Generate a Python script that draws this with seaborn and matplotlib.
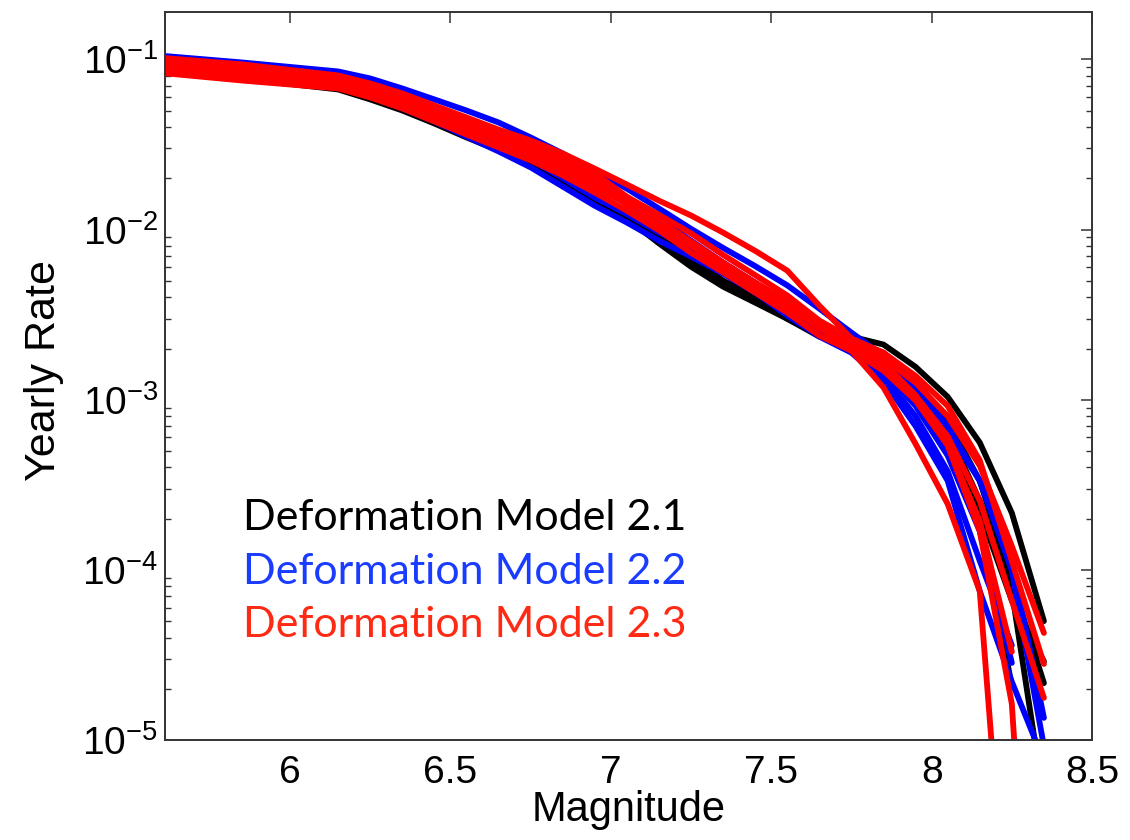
import numpy as np
import pandas as pd
import matplotlib
matplotlib.use("Agg")
import matplotlib.pyplot as plt
from matplotlib.ticker import FixedLocator, FixedFormatter, LogLocator, NullLocator, NullFormatter
import seaborn as sns

nan = np.nan

magnitude = [5.55, 5.85, 6.15, 6.25, 6.35, 6.45, 6.55, 6.65, 6.75, 6.85, 6.95, 7.05, 7.15,
             7.25, 7.35, 7.45, 7.55, 7.65, 7.75, 7.85, 7.95, 8.05, 8.15, 8.25, 8.35]

# Deformation Model 2.1 branches (black)
dm21_a = [0.0935, 0.0827, 0.0713, 0.0622, 0.0529, 0.0444, 0.0367, 0.0308, 0.0255, 0.0202, 0.0156, 0.0119, 0.0086,
          0.0064, 0.0048, 0.0039, 0.0031, 0.00255, 0.00235, 0.00211, 0.00156, 0.00104, 0.00056, 0.000216, 5.0e-5]
dm21_b = [0.0862, 0.0773, 0.0666, 0.0582, 0.0501, 0.042, 0.0348, 0.0292, 0.0245, 0.0194, 0.015, 0.0116, 0.0083,
          0.00605, 0.00462, 0.00372, 0.00299, 0.00241, 0.00222, 0.00189, 0.00129, 0.00075, 0.000334, 8.6e-5, 2.16e-5]
dm21_c = [0.0885, 0.0794, 0.0685, 0.0598, 0.0515, 0.0432, 0.0357, 0.03, 0.0251, 0.02, 0.0154, 0.0118, 0.0085,
          0.0062, 0.00474, 0.00382, 0.00308, 0.00244, 0.00216, 0.00174, 0.00106, 0.00057, 0.000194, 2.08e-5, nan]
dm21_d = [0.0873, 0.0784, 0.0675, 0.059, 0.0508, 0.0426, 0.0352, 0.0296, 0.0248, 0.0197, 0.0152, 0.0119, 0.0089,
          0.0064, 0.00488, 0.00393, 0.00299, 0.00235, 0.00211, 0.00169, 0.00113, 0.00066, 0.000255, 7.5e-5, 4.4e-6]
dm21_e = [0.091, 0.0816, 0.0694, 0.0606, 0.0522, 0.0438, 0.0362, 0.0304, 0.0258, 0.0205, 0.0158, 0.0123, 0.0091,
          0.00675, 0.00501, 0.00404, 0.00316, 0.00248, 0.00208, 0.00158, 0.00099, 0.00054, 0.000222, 6.6e-5, 2.9e-5]

# Deformation Model 2.2 branches (blue)
dm22_a = [0.107, 0.096, 0.085, 0.0773, 0.0675, 0.0582, 0.0501, 0.0426, 0.0348, 0.028, 0.0222, 0.0174, 0.0133,
          0.0101, 0.0078, 0.0061, 0.0047, 0.00343, 0.00248, 0.00181, 0.00121, 0.0007, 0.000334, 9.9e-5, 9.2e-6]
dm22_b = [0.101, 0.091, 0.0784, 0.0703, 0.0614, 0.0522, 0.0438, 0.0367, 0.0312, 0.0255, 0.02, 0.0152, 0.0116,
          0.0086, 0.0064, 0.00488, 0.00367, 0.00272, 0.00208, 0.00165, 0.00113, 0.00066, 0.000334, 0.000113, 1.35e-5]
dm22_c = [0.0987, 0.0885, 0.0763, 0.0685, 0.059, 0.0501, 0.042, 0.0348, 0.0292, 0.0238, 0.0186, 0.0146, 0.011,
          0.00805, 0.00605, 0.00456, 0.00343, 0.00255, 0.002, 0.00148, 0.00092, 0.00047, 0.000169, 2.84e-5, nan]
dm22_d = [0.096, 0.085, 0.0732, 0.0648, 0.0558, 0.0468, 0.0387, 0.032, 0.0258, 0.02, 0.0154, 0.0123, 0.0096,
          0.00773, 0.00574, 0.00438, 0.00325, 0.00248, 0.00194, 0.00138, 0.0008, 0.00038, 0.000113, 3.6e-5, nan]
dm22_e = [0.091, 0.0805, 0.0685, 0.0606, 0.0515, 0.0432, 0.0352, 0.0288, 0.0232, 0.0179, 0.0138, 0.011, 0.0086,
          0.00694, 0.00551, 0.00426, 0.00312, 0.00235, 0.00189, 0.00129, 0.0007, 0.000334, 7.5e-5, 2.2e-5, 7.5e-6]

# Deformation Model 2.3 branches (red)
dm23_a = [0.104, 0.0935, 0.0805, 0.0722, 0.0631, 0.0536, 0.0456, 0.0387, 0.0334, 0.028, 0.0228, 0.0184, 0.0148,
          0.0121, 0.0096, 0.0075, 0.00574, 0.00357, 0.00229, 0.00174, 0.00126, 0.0008, 0.00041, 0.000138, 4.26e-5]
dm23_b = [0.1, 0.0897, 0.0773, 0.0694, 0.0606, 0.0515, 0.0438, 0.0367, 0.0316, 0.0265, 0.0214, 0.0156, 0.0122,
          0.0095, 0.0071, 0.0054, 0.0041, 0.00292, 0.00229, 0.00189, 0.00138, 0.00092, 0.00044, 0.000113, 2.8e-5]
dm23_c = [0.096, 0.0862, 0.0752, 0.0666, 0.0582, 0.0494, 0.0415, 0.0352, 0.03, 0.0248, 0.02, 0.0148, 0.0113,
          0.0085, 0.0064, 0.00488, 0.00382, 0.00284, 0.00216, 0.00165, 0.00106, 0.00054, 0.000169, 1.63e-5, 2e-8]
dm23_d = [0.0922, 0.0816, 0.0722, 0.0648, 0.0558, 0.0468, 0.0398, 0.0334, 0.0284, 0.0235, 0.0189, 0.014, 0.0107,
          0.00805, 0.00605, 0.00462, 0.00352, 0.00269, 0.00194, 0.00118, 0.00055, 0.000244, 7.5e-5, 2.9e-7, nan]
dm23_e = [0.0885, 0.0784, 0.0703, 0.0622, 0.0536, 0.045, 0.0377, 0.0316, 0.0269, 0.0219, 0.0177, 0.0142, 0.0107,
          0.00805, 0.00605, 0.00469, 0.00357, 0.00262, 0.00205, 0.00158, 0.00106, 0.00061, 0.000255, 6.6e-5, 1.77e-5]
dm23_f = [0.085, 0.0752, 0.0675, 0.0598, 0.0515, 0.0432, 0.0362, 0.0304, 0.0255, 0.0208, 0.0165, 0.0129, 0.0099,
          0.0073, 0.0056, 0.00426, 0.00325, 0.00238, 0.00194, 0.00148, 0.00099, 0.00054, 0.000194, 3.3e-5, nan]

models = ["Deformation Model 2.1", "Deformation Model 2.2", "Deformation Model 2.3"]
line_colors = ["#000000", "#0000ff", "#ff0000"]
text_colors = ["#000000", "#1a3cff", "#ff2a14"]
x_ticks = [6, 6.5, 7, 7.5, 8, 8.5]
x_tick_labels = ["6", "6.5", "7", "7.5", "8", "8.5"]
y_ticks = [1e-5, 1e-4, 1e-3, 1e-2, 1e-1]
y_tick_labels = [r"$10^{-5}$", r"$10^{-4}$", r"$10^{-3}$", r"$10^{-2}$", r"$10^{-1}$"]

branches = {
    models[0]: [dm21_a, dm21_b, dm21_c, dm21_d, dm21_e],
    models[1]: [dm22_a, dm22_b, dm22_c, dm22_d, dm22_e],
    models[2]: [dm23_a, dm23_b, dm23_c, dm23_d, dm23_e, dm23_f],
}

rows = []
for model in models:
    for i, series in enumerate(branches[model]):
        for m, r in zip(magnitude, series):
            rows.append({"Magnitude": m, "Rate": r, "model": model, "branch": f"{model}-{i}"})
df = pd.DataFrame(rows).dropna()

sns.set_style("white")
plt.rcParams["font.family"] = ["Liberation Sans", "DejaVu Sans"]
plt.rcParams["mathtext.fontset"] = "custom"
plt.rcParams["mathtext.rm"] = "Liberation Sans"
plt.rcParams["mathtext.it"] = "Liberation Sans"
plt.rcParams["text.color"] = "black"
plt.rcParams["axes.labelcolor"] = "black"
plt.rcParams["xtick.color"] = "black"
plt.rcParams["ytick.color"] = "black"

fig = plt.figure(figsize=(11.3, 8.4), dpi=100)
ax = fig.add_axes([0.146, 0.119, 0.8204, 0.8667])
ax.set_yscale("log")

sns.lineplot(data=df, x="Magnitude", y="Rate", hue="model", hue_order=models,
             palette=dict(zip(models, line_colors)), units="branch", estimator=None,
             linewidth=4.2, legend=False, ax=ax, sort=True)

ax.set_xlim(5.61, 8.5)
ax.set_ylim(1e-5, 0.19)

ax.xaxis.set_major_locator(FixedLocator(x_ticks))
ax.xaxis.set_major_formatter(FixedFormatter(x_tick_labels))
ax.xaxis.set_minor_locator(NullLocator())
ax.yaxis.set_major_locator(FixedLocator(y_ticks))
ax.yaxis.set_major_formatter(FixedFormatter(y_tick_labels))
ax.yaxis.set_minor_locator(LogLocator(base=10, subs=np.arange(2, 10)))
ax.yaxis.set_minor_formatter(NullFormatter())

ax.tick_params(axis="both", which="major", direction="in", length=8, width=1.1,
               top=True, right=True, labelsize=28, color="#333333", labelcolor="black")
ax.tick_params(axis="y", which="minor", direction="in", length=4, width=1.0,
               left=True, right=True, color="#333333")
ax.tick_params(axis="x", which="major", pad=11)
ax.tick_params(axis="y", which="major", pad=5)

for s in ax.spines.values():
    s.set_visible(True)
    s.set_linewidth(1.4)
    s.set_color("#333333")

ax.set_xlabel("Magnitude", fontsize=30)
ax.set_ylabel("Yearly Rate", fontsize=31, va="center")
ax.xaxis.set_label_coords(0.5, -0.068)
ax.yaxis.set_label_coords(-0.13, 0.508)

legend_y = [0.288, 0.214, 0.141]
for model, col, yy in zip(models, text_colors, legend_y):
    ax.text(0.084, yy, model, transform=ax.transAxes, color=col, fontsize=31,
            family=["Lato", "DejaVu Sans"], va="baseline", ha="left")

fig.savefig("out.png", dpi=100, facecolor="white")
